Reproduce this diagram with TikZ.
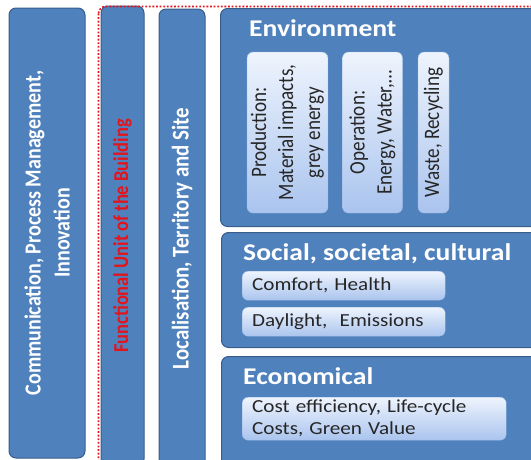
\documentclass[tikz,border=0pt]{standalone}
\usepackage{fontspec}
\setmainfont{Carlito}
\newfontfamily\hfont[FakeStretch=1.15]{Carlito}
\newfontfamily\vfont[FakeStretch=0.87]{Carlito}
\definecolor{boxblue}{HTML}{4F81BD}
\definecolor{boxline}{HTML}{385D8A}
\definecolor{itemtop}{HTML}{EEF4FD}
\definecolor{itembot}{HTML}{AAC4EE}
\definecolor{itemline}{HTML}{9DB8E3}
\definecolor{itemtext}{HTML}{262626}
\definecolor{funcred}{HTML}{E3141B}

\begin{document}
\begin{tikzpicture}[x=1pt,y=-1pt,
                pillar/.style={draw=boxline,fill=boxblue,line width=1pt,rounded corners=7pt,rotate=90,inner sep=0pt,
                  align=center,text=white,font=\vfont\bfseries\fontsize{24}{29}\selectfont},
                panel/.style={draw=boxline,fill=boxblue,line width=1pt,rounded corners=7pt,anchor=north west,inner sep=0pt,
                  minimum width=330pt},
                title/.style={anchor=base west,inner sep=0pt,text=white,font=\hfont\bfseries\fontsize{24}{28}\selectfont},
                item/.style={draw=itemline,top color=itemtop,bottom color=itembot,rounded corners=6pt,inner sep=0pt,
                  align=center,text=itemtext,font=\vfont\fontsize{22}{27}\selectfont},
                hitem/.style={item,anchor=north west,inner xsep=10pt,align=left,font=\hfont\fontsize{18.4}{22}\selectfont}]
                \useasboundingbox (0,0) rectangle (531,459);
                \clip (0,0) rectangle (531,459);

                \node[pillar,minimum width=450pt,minimum height=76pt,font=\vfont\bfseries\fontsize{23}{29}\selectfont]
                  (comm) at (47,233) {Communication, Process Management,\\Innovation};
                \node[pillar,minimum width=460pt,minimum height=43pt,text=funcred,font=\vfont\bfseries\fontsize{21.2}{26}\selectfont]
                  (func) at (122.5,236) {Functional Unit of the Building};
                \node[pillar,minimum width=459pt,minimum height=46pt] (loc) at (182,238.5)
                  {Localisation, Territory and Site};

                \node[panel,minimum height=218pt] (env) at (220,8) {};
                \node[panel,minimum height=115pt] (soc) at (221,232) {};
                \node[panel,minimum height=120pt] (eco) at (221,356) {};

                \node[title] (envtitle) at (249,36) {Environment};
                \node[title] (soctitle) at (243,260) {Social, societal, cultural};
                \node[title] (ecotitle) at (243,384) {Economical};

                \node[item,rotate=90,minimum width=161pt,minimum height=81pt] (prod) at (287.5,132.5)
                  {Production:\\Material impacts,\\grey energy};
                \node[item,rotate=90,minimum width=161pt,minimum height=60pt] (oper) at (372.5,132.5)
                  {Operation:\\Energy, Water,\dots};
                \node[item,rotate=90,minimum width=161pt,minimum height=31pt] (waste) at (433.5,132.5)
                  {Waste, Recycling};

                \node[hitem,text width=183pt,minimum height=29pt] (comfort) at (242,271) {Comfort, Health};
                \node[hitem,text width=183pt,minimum height=29pt] (daylight) at (242,307) {Daylight,\ \ Emissions};
                \node[hitem,text width=244pt,minimum height=43pt] (cost) at (242,397)
                  {Cost efficiency, Life-cycle\\Costs, Green Value};

                \draw[funcred,line width=1.6pt,dash pattern=on 1.8pt off 1.8pt,rounded corners=7pt]
                  (98.5,6.5) rectangle (620,520);
\end{tikzpicture}
\end{document}
